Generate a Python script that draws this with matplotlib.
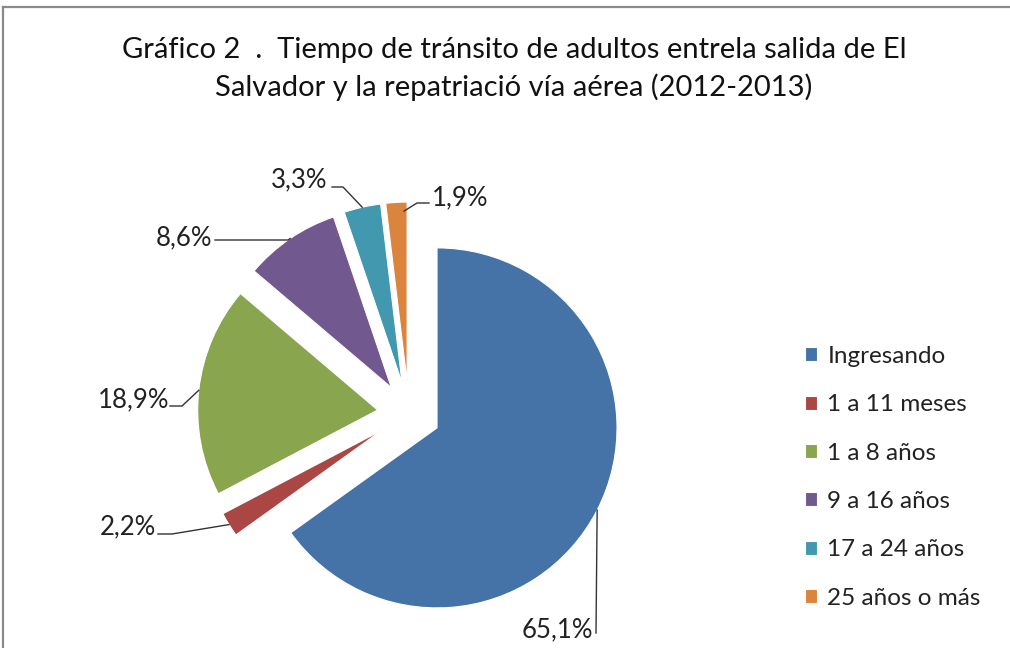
import matplotlib
matplotlib.use('Agg')
import matplotlib.pyplot as plt
from matplotlib.lines import Line2D
import numpy as np

plt.rcParams['font.family'] = ['Lato', 'DejaVu Sans']

# data
categories = ['Ingresando', '1 a 11 meses', '1 a 8 años', '9 a 16 años', '17 a 24 años', '25 años o más']
shares = [65.1, 2.2, 18.9, 8.6, 3.3, 1.9]
colors = ['#4572A7', '#AA4643', '#89A54E', '#71588F', '#4198AF', '#DB843D']
title = 'Gráfico 2  .  Tiempo de tránsito de adultos entrela salida de El\nSalvador y la repatriació vía aérea (2012-2013)'

W, H = 1010, 648
CX, CY, R = 409, 413.5, 180   # pie centre and radius in pixels


def px(x, y):
    # pixel position (y down) -> data units of the pie axes
    return (x - CX) / R, (CY - y) / R


# label text centres and leader elbows, in pixels
label_pos = [(557, 630), (128, 527), (134, 400), (184, 238), (299, 180), (460, 198)]
leader_start = [(596, 633), (158, 534), (170, 406), (215, 240), (332, 187), (429, 203)]
leader_elbow = [None, (172, 534), (182, 406), (288, 240), (343, 187), (417, 203)]
anchor_frac = [(0.5, 1.0), (0.5, 1.0), (0.5, 1.0), (0.5, 1.0), (0.5, 1.0), (0.15, 0.95)]

fig = plt.figure(figsize=(W / 100, H / 100), dpi=100)
ax = fig.add_axes([0, 0, 1, 1])

wedges, _ = ax.pie(shares, colors=colors, startangle=90, counterclock=False,
                   explode=[0.175] * len(shares),
                   wedgeprops=dict(edgecolor='white', linewidth=0.8))

x0, y1 = px(0, 0)
x1, y0 = px(W, H)
ax.set_xlim(x0, x1)
ax.set_ylim(y0, y1)
ax.set_aspect('equal')
ax.axis('off')

for i, w in enumerate(wedges):
    f, rf = anchor_frac[i]
    th = np.deg2rad(w.theta1 + f * (w.theta2 - w.theta1))
    ax_pt = (w.center[0] + rf * w.r * np.cos(th), w.center[1] + rf * w.r * np.sin(th))
    pts = [px(*leader_start[i])]
    if leader_elbow[i] is not None:
        pts.append(px(*leader_elbow[i]))
    pts.append(ax_pt)
    xs, ys = zip(*pts)
    ax.plot(xs, ys, color='#333333', lw=1.0)
    lx, ly = px(*label_pos[i])
    ax.text(lx, ly, f'{shares[i]:.1f}%'.replace('.', ','), fontsize=18.5,
            ha='center', va='center', color='#222222')

leg = fig.legend(wedges, categories, loc='upper left', bbox_to_anchor=(805 / W, 1 - 346 / H),
                 frameon=False, fontsize=17.5, handlelength=0.5, handleheight=0.5,
                 handletextpad=0.42, labelspacing=1.125, borderpad=0, borderaxespad=0)
for t in leg.get_texts():
    t.set_color('#222222')

fig.text(514 / W, 1 - 69 / H, title, ha='center', va='center', fontsize=21,
         linespacing=1.42, color='#111111')

# chart frame
fig.add_artist(Line2D([3 / W, 1.0], [1 - 7 / H, 1 - 7 / H], color='#8a8a8a', lw=1.6))
fig.add_artist(Line2D([3 / W, 3 / W], [1 - 7 / H, 0.0], color='#8a8a8a', lw=1.6))

fig.savefig('out.png', dpi=100)
